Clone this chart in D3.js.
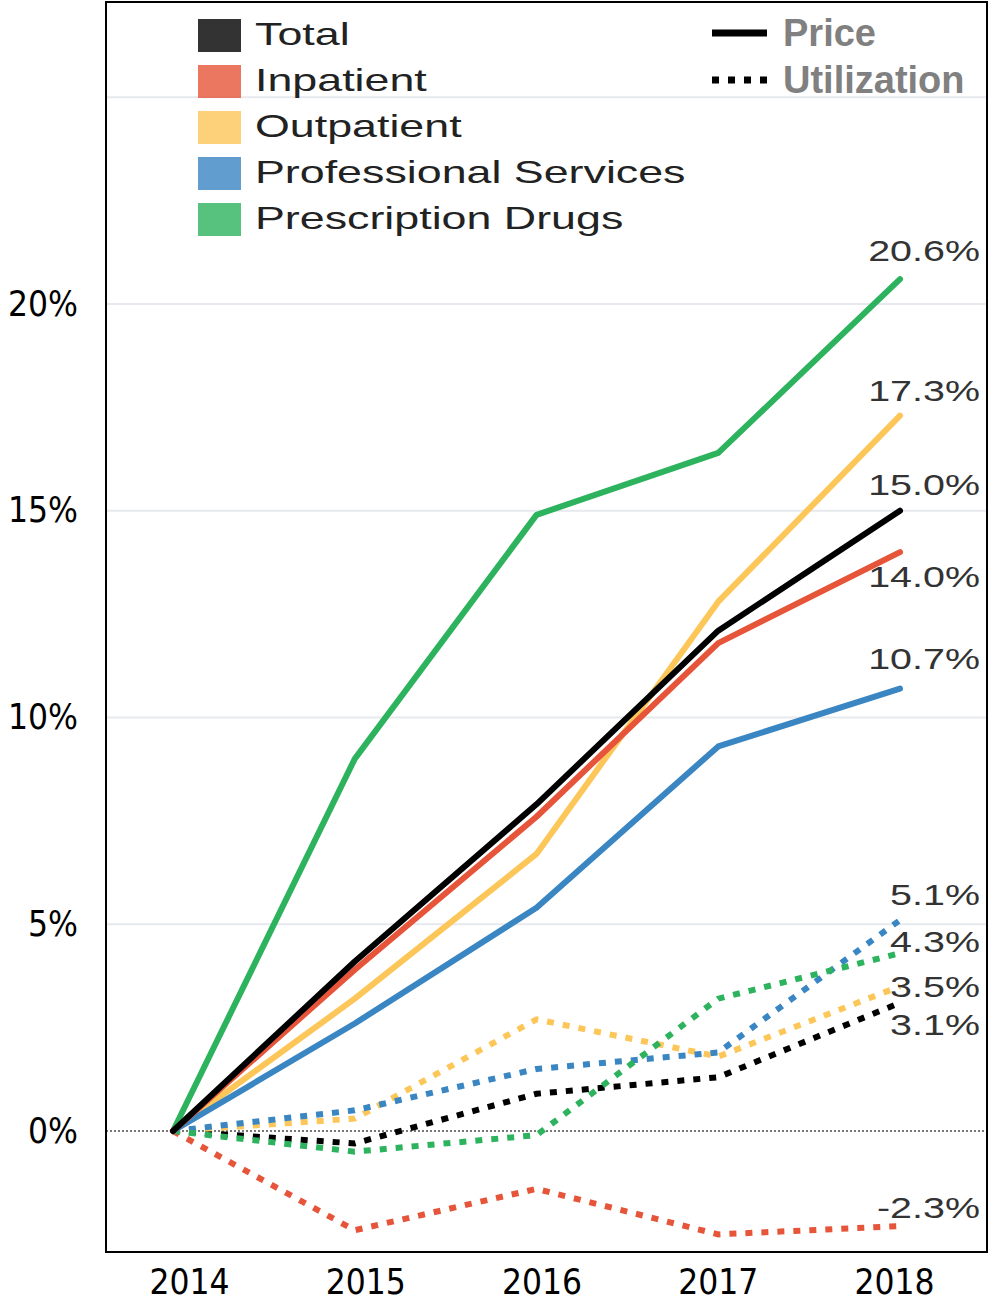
<!DOCTYPE html>
<html>
<head>
<meta charset="utf-8">
<script src="https://cdnjs.cloudflare.com/ajax/libs/d3/7.8.5/d3.min.js"></script>
<style>
    body { margin: 0; background: #fff; }
</style>
</head>
<body>
<div id="chart"></div>
<script>
// Years on the x axis
var years = [2014, 2015, 2016, 2017, 2018];

// Categories and their colours
var categories = ["Total", "Inpatient", "Outpatient", "Professional Services", "Prescription Drugs"];
var colors = ["#000000", "#e6553a", "#fdc659", "#3a86c3", "#2db35d"];

// Cumulative price growth (%)
var priceTotal = [0, 4.1, 7.9, 12.1, 15.0];
var priceInpatient = [0, 3.9, 7.6, 11.8, 14.0];
var priceOutpatient = [0, 3.2, 6.7, 12.8, 17.3];
var priceProfessional = [0, 2.6, 5.4, 9.3, 10.7];
var priceDrugs = [0, 9.0, 14.9, 16.4, 20.6];

// Cumulative utilization growth (%)
var utilTotal = [0, -0.3, 0.9, 1.3, 3.1];
var utilInpatient = [0, -2.4, -1.4, -2.5, -2.3];
var utilOutpatient = [0, 0.3, 2.7, 1.8, 3.5];
var utilProfessional = [0, 0.5, 1.5, 1.9, 5.1];
var utilDrugs = [0, -0.5, -0.1, 3.2, 4.3];

// Y axis ticks
var yTicks = [0, 5, 10, 15, 20];
var gridTicks = [5, 10, 15, 20, 25];

// Legend for line styles
var styleLabels = ["Price", "Utilization"];

// Vertical nudges for the end labels (so they don't collide)
var priceLabelDy = [-16, 35, -15, -20, -18];
var utilLabelDy = [32, -8, 11, -15, -1];

var w = 992;
var h = 1302;
var stretch = 1.36; // the original text is stretched horizontally
var legendStretch = 1.4;

var svg = d3.select("#chart")
            .append("svg")
            .attr("width", w)
            .attr("height", h);

// Scales
var x = d3.scaleLinear().domain([2014, 2018]).range([173, 900]);
var xLabel = d3.scaleLinear().domain([2014, 2018]).range([189, 894]);
var y = d3.scaleLinear().domain([0, 20]).range([1131, 304]);

var frameLeft = 106, frameRight = 987, frameTop = 2, frameBottom = 1252;

// Gridlines
svg.selectAll(".grid")
   .data(gridTicks)
   .enter()
   .append("line")
   .attr("x1", frameLeft)
   .attr("x2", frameRight)
   .attr("y1", function(d) { return y(d); })
   .attr("y2", function(d) { return y(d); })
   .attr("stroke", "#e6e9ee")
   .attr("stroke-width", 2);

// Zero line
svg.append("line")
   .attr("x1", frameLeft)
   .attr("x2", frameRight)
   .attr("y1", y(0))
   .attr("y2", y(0))
   .attr("stroke", "#777")
   .attr("stroke-width", 2)
   .attr("stroke-dasharray", "2,2");

// Build series
var priceSeries = [priceTotal, priceInpatient, priceOutpatient, priceProfessional, priceDrugs];
var utilSeries = [utilTotal, utilInpatient, utilOutpatient, utilProfessional, utilDrugs];

var line = d3.line()
    .x(function(d, i) { return x(years[i]); })
    .y(function(d) { return y(d); });

// Utilization (dotted)
svg.selectAll(".util")
   .data(utilSeries)
   .enter()
   .append("path")
   .attr("d", line)
   .attr("fill", "none")
   .attr("stroke", function(d, i) { return colors[i]; })
   .attr("stroke-width", 6)
   .attr("stroke-dasharray", "7,9");

// Price (solid); draw green first so the others sit on top
var priceOrder = [4, 2, 3, 1, 0];
svg.selectAll(".price")
   .data(priceOrder)
   .enter()
   .append("path")
   .attr("d", function(k) { return line(priceSeries[k]); })
   .attr("fill", "none")
   .attr("stroke", function(k) { return colors[k]; })
   .attr("stroke-width", 6)
   .attr("stroke-linecap", "round")
   .attr("stroke-linejoin", "round");

// End labels (plain hyphen for negatives, like the original)
function endLabel(value, dy) {
    svg.append("text")
       .attr("transform", "translate(980," + (y(value) + dy) + ") scale(" + stretch + ",1)")
       .attr("text-anchor", "end")
       .attr("font-family", "'Liberation Sans', Arial, sans-serif")
       .attr("font-size", 29)
       .attr("fill", "#333")
       .text(value.toFixed(1) + "%");
}
priceSeries.forEach(function(s, i) { endLabel(s[s.length - 1], priceLabelDy[i]); });
utilSeries.forEach(function(s, i) { endLabel(s[s.length - 1], utilLabelDy[i]); });

// Y axis labels
var yAxis = d3.axisLeft(y)
    .tickValues(yTicks)
    .tickSize(0)
    .tickPadding(0)
    .tickFormat(function(d) { return d + "%"; });
var yg = svg.append("g")
    .attr("transform", "translate(78,0)")
    .call(yAxis);
yg.select(".domain").remove();
yg.selectAll("text")
  .attr("font-family", "'DejaVu Sans Condensed', 'DejaVu Sans', sans-serif")
  .attr("font-size", 35)
  .attr("fill", "#000");

// X axis labels
var xAxis = d3.axisBottom(xLabel)
    .tickValues(years)
    .tickSize(0)
    .tickPadding(0)
    .tickFormat(d3.format("d"));
var xg = svg.append("g")
    .attr("transform", "translate(0,1269)")
    .call(xAxis);
xg.select(".domain").remove();
xg.selectAll("text")
  .attr("font-family", "'DejaVu Sans Condensed', 'DejaVu Sans', sans-serif")
  .attr("font-size", 35)
  .attr("fill", "#000");

// Category legend
var legend = svg.selectAll(".legend")
    .data(categories)
    .enter()
    .append("g")
    .attr("transform", function(d, i) { return "translate(198," + (45 + i * 46) + ")"; });

legend.append("rect")
      .attr("x", 0)
      .attr("y", -26)
      .attr("width", 43)
      .attr("height", 33)
      .attr("fill", function(d, i) { return colors[i]; })
      .attr("opacity", 0.8);

legend.append("text")
      .attr("transform", "translate(57,0) scale(" + legendStretch + ",1)")
      .attr("font-family", "'Liberation Sans', Arial, sans-serif")
      .attr("font-size", 32)
      .attr("fill", "#222")
      .text(function(d) { return d; });

// Line style legend
var styleLegend = svg.selectAll(".style")
    .data(styleLabels)
    .enter()
    .append("g")
    .attr("transform", function(d, i) { return "translate(712," + (33 + i * 47) + ")"; });

styleLegend.append("line")
    .attr("x1", 0)
    .attr("x2", 55)
    .attr("y1", 0)
    .attr("y2", 0)
    .attr("stroke", "#000")
    .attr("stroke-width", 7)
    .attr("stroke-dasharray", function(d, i) { return i === 0 ? null : "7,9"; });

styleLegend.append("text")
    .attr("x", 71)
    .attr("y", 13)
    .attr("font-family", "'Liberation Sans', Arial, sans-serif")
    .attr("font-weight", "bold")
    .attr("font-size", 38)
    .attr("fill", "#808080")
    .text(function(d) { return d; });

// Frame
svg.append("rect")
   .attr("x", frameLeft)
   .attr("y", frameTop)
   .attr("width", frameRight - frameLeft)
   .attr("height", frameBottom - frameTop)
   .attr("fill", "none")
   .attr("stroke", "#000")
   .attr("stroke-width", 2);
</script>
</body>
</html>
